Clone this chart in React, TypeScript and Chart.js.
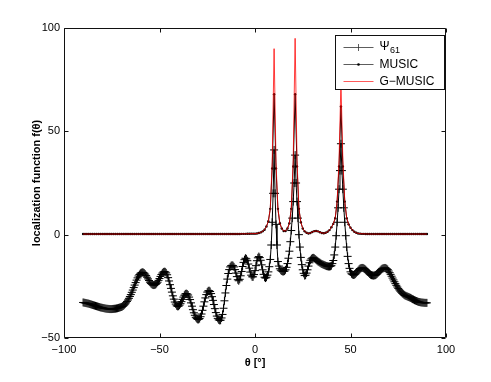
import React, { useEffect, useRef } from "react";
import { Chart, registerables } from "chart.js";

Chart.register(...registerables);

// sampling grids (theta from -90 to 90)
const THETA_START = -90;
const PSI_STEP = 0.5; // Psi_61 sampled every 0.5 degree
const MUSIC_STEP = 1; // MUSIC / G-MUSIC sampled every 1 degree

// Psi_61 (lower curve, "+" markers), pairs per degree: [theta, theta+0.5]
const PSI61 = [
  -32.8, -32.9, -33.0, -33.1, -33.2, -33.3, -33.4, -33.55, -33.7, -33.85, // -90..-86
  -34.0, -34.15, -34.3, -34.45, -34.6, -34.75, -34.9, -35.05, -35.2, -35.3, // -85..-81
  -35.4, -35.5, -35.6, -35.7, -35.8, -35.85, -35.9, -35.95, -36.0, -36.0, // -80..-76
  -36.0, -35.95, -35.9, -35.85, -35.8, -35.7, -35.6, -35.45, -35.3, -35.15, // -75..-71
  -35.0, -34.8, -34.5, -34.1, -33.6, -33.0, -32.3, -31.6, -30.8, -29.9, // -70..-66
  -29.0, -27.9, -26.8, -25.6, -24.4, -23.2, -22.0, -20.9, -20.0, -19.3, // -65..-61
  -18.7, -18.4, -18.2, -18.3, -18.6, -19.1, -19.8, -20.6, -21.4, -22.2, // -60..-56
  -23.0, -23.6, -24.0, -24.3, -24.4, -24.3, -24.1, -23.6, -23.0, -22.1, // -55..-51
  -21.2, -20.2, -19.3, -18.6, -18.1, -17.9, -18.0, -18.5, -19.4, -20.8, // -50..-46
  -22.4, -24.2, -26.0, -27.8, -29.6, -31.2, -32.6, -33.6, -34.4, -34.7, // -45..-41
  -34.6, -34.1, -33.4, -32.4, -31.3, -30.2, -29.3, -28.7, -28.5, -28.7, // -40..-36
  -29.2, -30.2, -31.4, -33.0, -34.6, -36.3, -37.8, -39.0, -40.0, -40.6, // -35..-31
  -41.0, -41.0, -40.6, -39.7, -38.4, -36.6, -34.6, -32.5, -30.6, -29.0, // -30..-26
  -27.8, -27.2, -27.1, -27.5, -28.5, -30.0, -31.8, -33.8, -35.8, -37.7, // -25..-21
  -39.4, -40.5, -41.2, -41.5, -41.4, -40.3, -38.6, -35.6, -32.0, -28.2, // -20..-16
  -24.6, -21.5, -18.8, -16.9, -15.6, -15.0, -14.8, -15.0, -15.6, -16.9, // -15..-11
  -18.6, -20.3, -21.8, -22.3, -21.6, -19.9, -17.8, -15.4, -13.4, -12.1, // -10..-6
  -11.4, -11.7, -12.6, -14.2, -16.2, -18.1, -19.6, -20.4, -20.4, -19.3, // -5..-1
  -17.4, -15.0, -12.6, -11.2, -10.6, -11.1, -12.4, -14.6, -17.0, -19.2, // 0..4
  -20.6, -21.0, -20.6, -19.6, -18.0, -15.5, -12.0, -5.0, 6.0, 20.0,     // 5..9
  41.0, 20.0, 5.0, -5.0, -13.0, -15.2, -16.5, -17.2, -17.6, -17.8,      // 10..14
  -17.8, -17.6, -17.0, -15.8, -14.0, -11.4, -8.0, -3.4, 2.0, 8.0,       // 15..19
  16.0, 25.0, 38.5, 25.0, 16.0, 8.0, 0.0, -6.0, -11.0, -14.5,           // 20..24
  -17.0, -18.7, -19.8, -19.6, -18.6, -17.0, -15.2, -13.6, -12.4, -11.7, // 25..29
  -11.3, -11.2, -11.4, -11.8, -12.2, -12.6, -13.0, -13.3, -13.6, -13.9, // 30..34
  -14.2, -14.4, -14.6, -14.8, -15.0, -15.2, -15.3, -15.4, -15.4, -15.3, // 35..39
  -15.0, -14.0, -12.5, -9.8, -6.0, -0.5, 6.0, 13.0, 22.0, 31.0,         // 40..44
  44.0, 31.0, 22.0, 13.0, 6.0, -0.5, -6.0, -10.5, -14.0, -16.3,         // 45..49
  -18.0, -18.9, -19.3, -19.5, -19.4, -19.1, -18.6, -18.0, -17.4, -16.8, // 50..54
  -16.4, -16.2, -16.1, -16.1, -16.3, -16.6, -17.0, -17.5, -18.0, -18.5, // 55..59
  -19.0, -19.4, -19.6, -19.7, -19.8, -19.7, -19.6, -19.3, -18.9, -18.4, // 60..64
  -17.9, -17.4, -16.9, -16.5, -16.3, -16.2, -16.1, -16.2, -16.5, -16.9, // 65..69
  -17.6, -18.4, -19.2, -20.1, -21.0, -21.9, -22.8, -23.7, -24.5, -25.3, // 70..74
  -26.0, -26.7, -27.3, -27.8, -28.3, -28.7, -29.1, -29.4, -29.6, -29.8, // 75..79
  -30.0, -30.2, -30.4, -30.6, -30.9, -31.2, -31.4, -31.7, -31.9, -32.1, // 80..84
  -32.3, -32.5, -32.6, -32.7, -32.8, -32.85, -32.9, -32.95, -33.0, -33.0, // 85..89
  -33.0,                                                                  // 90
];

// MUSIC (black line, dot markers), one value per degree
const MUSIC = [
  0.3, 0.3, 0.3, 0.3, 0.3, 0.3, 0.3, 0.3, 0.3, 0.3, // -90..-81
  0.3, 0.3, 0.3, 0.3, 0.3, 0.3, 0.3, 0.3, 0.3, 0.3, // -80..-71
  0.3, 0.3, 0.3, 0.3, 0.3, 0.3, 0.3, 0.3, 0.3, 0.3, // -70..-61
  0.3, 0.3, 0.3, 0.3, 0.3, 0.3, 0.3, 0.3, 0.3, 0.3, // -60..-51
  0.3, 0.3, 0.3, 0.3, 0.3, 0.3, 0.3, 0.3, 0.3, 0.3, // -50..-41
  0.3, 0.3, 0.3, 0.3, 0.3, 0.3, 0.3, 0.3, 0.3, 0.3, // -40..-31
  0.3, 0.3, 0.3, 0.3, 0.3, 0.3, 0.3, 0.3, 0.3, 0.3, // -30..-21
  0.3, 0.3, 0.3, 0.3, 0.3, 0.3, 0.3, 0.3, 0.3, 0.3, // -20..-11
  0.35, 0.35, 0.35, 0.4, 0.4, 0.4, 0.45, 0.45, 0.5, 0.5, // -10..-1
  0.5, 0.6, 0.8, 1.1, 1.6, 2.4, 4.0, 6.5, 12.5, 32,  // 0..9
  68, 32, 12.5, 5.5, 3.0, 1.8, 1.8, 3.0, 5.5, 12.5,  // 10..19
  33, 68, 33, 12.5, 6.0, 3.0, 1.6, 0.9, 0.6, 0.8,    // 20..29
  1.3, 1.7, 1.8, 1.6, 1.2, 0.8, 0.7, 0.9, 1.4, 2.2,  // 30..39
  3.6, 5.2, 8.0, 16, 33, 62, 33, 16, 8.0, 5.0,       // 40..49
  3.4, 2.2, 1.4, 0.9, 0.6, 0.5, 0.4, 0.4, 0.35, 0.35, // 50..59
  0.3, 0.3, 0.3, 0.3, 0.3, 0.3, 0.3, 0.3, 0.3, 0.3, // 60..69
  0.3, 0.3, 0.3, 0.3, 0.3, 0.3, 0.3, 0.3, 0.3, 0.3, // 70..79
  0.3, 0.3, 0.3, 0.3, 0.3, 0.3, 0.3, 0.3, 0.3, 0.3, // 80..89
  0.3,                                              // 90
];

// G-MUSIC (red line), one value per degree
const GMUSIC = [
  0.3, 0.3, 0.3, 0.3, 0.3, 0.3, 0.3, 0.3, 0.3, 0.3, // -90..-81
  0.3, 0.3, 0.3, 0.3, 0.3, 0.3, 0.3, 0.3, 0.3, 0.3, // -80..-71
  0.3, 0.3, 0.3, 0.3, 0.3, 0.3, 0.3, 0.3, 0.3, 0.3, // -70..-61
  0.3, 0.3, 0.3, 0.3, 0.3, 0.3, 0.3, 0.3, 0.3, 0.3, // -60..-51
  0.3, 0.3, 0.3, 0.3, 0.3, 0.3, 0.3, 0.3, 0.3, 0.3, // -50..-41
  0.3, 0.3, 0.3, 0.3, 0.3, 0.3, 0.3, 0.3, 0.3, 0.3, // -40..-31
  0.3, 0.3, 0.3, 0.3, 0.3, 0.3, 0.3, 0.3, 0.3, 0.3, // -30..-21
  0.3, 0.3, 0.3, 0.3, 0.3, 0.3, 0.3, 0.3, 0.3, 0.3, // -20..-11
  0.35, 0.35, 0.35, 0.4, 0.4, 0.4, 0.45, 0.45, 0.5, 0.5, // -10..-1
  0.5, 0.6, 0.8, 1.1, 1.6, 2.4, 4.0, 6.5, 12.5, 35,  // 0..9
  90, 35, 12.5, 5.5, 3.0, 1.8, 1.8, 3.0, 5.5, 12.5,  // 10..19
  36, 95, 36, 12.5, 6.0, 3.0, 1.6, 0.9, 0.6, 0.8,    // 20..29
  1.3, 1.7, 1.8, 1.6, 1.2, 0.8, 0.7, 0.9, 1.4, 2.2,  // 30..39
  3.6, 5.2, 8.0, 16, 36, 74, 36, 16, 8.0, 5.0,       // 40..49
  3.4, 2.2, 1.4, 0.9, 0.6, 0.5, 0.4, 0.4, 0.35, 0.35, // 50..59
  0.3, 0.3, 0.3, 0.3, 0.3, 0.3, 0.3, 0.3, 0.3, 0.3, // 60..69
  0.3, 0.3, 0.3, 0.3, 0.3, 0.3, 0.3, 0.3, 0.3, 0.3, // 70..79
  0.3, 0.3, 0.3, 0.3, 0.3, 0.3, 0.3, 0.3, 0.3, 0.3, // 80..89
  0.3,                                              // 90
];

const X_TICKS = [-100, -50, 0, 50, 100];
const Y_TICKS = [-50, 0, 50, 100];
const X_TITLE = "θ [°]";
const Y_TITLE = "localization function f(θ)";
const LABEL_PSI = "Ψ";
const LABEL_PSI_SUB = "61";
const LABEL_MUSIC = "MUSIC";
const LABEL_GMUSIC = "G−MUSIC";

const FONT = '"Liberation Sans", Arial, Helvetica, sans-serif';

const fmt = (v: number) => (v < 0 ? "\u2212" + Math.abs(v) : String(v));

const toPoints = (vals: number[], step: number) =>
  vals.map((y, i) => ({ x: THETA_START + i * step, y }));

const axesBoxPlugin = {
  id: "axesBox",
  afterDatasetsDraw(chart: any) {
    const { ctx, chartArea, scales } = chart;
    const L = Math.round(chartArea.left) + 0.5;
    const R = Math.round(chartArea.right) - 0.5;
    const T = Math.round(chartArea.top) + 0.5;
    const B = Math.round(chartArea.bottom) - 0.5;
    const tl = 4;
    ctx.save();
    ctx.strokeStyle = "#111";
    ctx.lineWidth = 1;
    ctx.beginPath();
    ctx.rect(L, T, R - L, B - T);
    ctx.stroke();
    ctx.beginPath();
    X_TICKS.forEach((v) => {
      const px = Math.round(scales.x.getPixelForValue(v)) + 0.5;
      ctx.moveTo(px, B);
      ctx.lineTo(px, B - tl);
      ctx.moveTo(px, T);
      ctx.lineTo(px, T + tl);
    });
    Y_TICKS.forEach((v) => {
      const py = Math.round(scales.y.getPixelForValue(v)) + 0.5;
      ctx.moveTo(L, py);
      ctx.lineTo(L + tl, py);
      ctx.moveTo(R, py);
      ctx.lineTo(R - tl, py);
    });
    ctx.stroke();
    ctx.restore();
  },
};

const legendPlugin = {
  id: "matlabLegend",
  afterDraw(chart: any) {
    const { ctx, chartArea } = chart;
    const bx = Math.round(chartArea.right) - 110.5;
    const by = Math.round(chartArea.top) + 7.5;
    const bw = 109;
    const bh = 54;
    ctx.save();
    ctx.fillStyle = "#fff";
    ctx.fillRect(bx, by, bw, bh);
    ctx.strokeStyle = "#111";
    ctx.lineWidth = 1;
    ctx.strokeRect(bx, by, bw, bh);

    const rows = [by + 12, by + 29, by + 46];
    const x1 = bx + 8;
    const x2 = bx + 38;
    const xm = (x1 + x2) / 2;
    const xt = bx + 44;

    // row 1: Psi_61
    ctx.strokeStyle = "#333";
    ctx.lineWidth = 0.8;
    ctx.beginPath();
    ctx.moveTo(x1, rows[0]);
    ctx.lineTo(x2, rows[0]);
    ctx.moveTo(xm, rows[0] - 3.5);
    ctx.lineTo(xm, rows[0] + 3.5);
    ctx.stroke();

    // row 2: MUSIC
    ctx.beginPath();
    ctx.moveTo(x1, rows[1]);
    ctx.lineTo(x2, rows[1]);
    ctx.stroke();
    ctx.fillStyle = "#000";
    ctx.beginPath();
    ctx.arc(xm, rows[1], 1.3, 0, Math.PI * 2);
    ctx.fill();

    // row 3: G-MUSIC
    ctx.strokeStyle = "#ff3030";
    ctx.beginPath();
    ctx.moveTo(x1, rows[2]);
    ctx.lineTo(x2, rows[2]);
    ctx.stroke();

    ctx.fillStyle = "#000";
    ctx.textBaseline = "middle";
    ctx.textAlign = "left";
    ctx.font = `12px ${FONT}`;
    ctx.fillText(LABEL_PSI, xt, rows[0] - 1);
    const w = ctx.measureText(LABEL_PSI).width;
    ctx.font = `9px ${FONT}`;
    ctx.fillText(LABEL_PSI_SUB, xt + w + 0.5, rows[0] + 3.5);
    ctx.font = `12px ${FONT}`;
    ctx.fillText(LABEL_MUSIC, xt, rows[1]);
    ctx.fillText(LABEL_GMUSIC, xt, rows[2]);
    ctx.restore();
  },
};

export default function App() {
  const ref = useRef<HTMLCanvasElement | null>(null);

  useEffect(() => {
    if (!ref.current) return;
    Chart.defaults.font.family = FONT;
    const chart = new Chart(ref.current, {
      type: "line",
      data: {
        datasets: [
          {
            label: LABEL_PSI + LABEL_PSI_SUB,
            data: toPoints(PSI61, PSI_STEP),
            borderColor: "#000",
            borderWidth: 1,
            pointStyle: "cross",
            pointRadius: 4,
            pointBorderColor: "#000",
            pointBorderWidth: 1,
            pointBackgroundColor: "#000",
            tension: 0,
            order: 2,
          },
          {
            label: LABEL_MUSIC,
            data: toPoints(MUSIC, MUSIC_STEP),
            borderColor: "#000",
            borderWidth: 1,
            pointStyle: "circle",
            pointRadius: 1.2,
            pointBorderWidth: 0,
            pointBackgroundColor: "#000",
            tension: 0,
            order: 1,
          },
          {
            label: LABEL_GMUSIC,
            data: toPoints(GMUSIC, MUSIC_STEP),
            borderColor: "rgba(255,0,0,0.85)",
            borderWidth: 0.9,
            pointRadius: 0,
            tension: 0,
            order: 0,
          },
        ],
      },
      options: {
        responsive: false,
        animation: false,
        devicePixelRatio: 1,
        layout: { padding: { top: 28, right: 45, left: 0, bottom: 0 } },
        plugins: {
          legend: { display: false },
          tooltip: { enabled: false },
        },
        scales: {
          x: {
            type: "linear",
            min: -100,
            max: 100,
            afterBuildTicks: (s: any) => {
              s.ticks = X_TICKS.map((v) => ({ value: v }));
            },
            afterFit: (s: any) => {
              s.height = 44;
            },
            grid: { display: false, drawTicks: false },
            border: { display: false },
            ticks: {
              padding: 5,
              color: "#000",
              font: { size: 11, family: FONT },
              maxRotation: 0,
              autoSkip: false,
              callback: (v: any) => fmt(Number(v)),
            },
            title: {
              display: true,
              text: X_TITLE,
              color: "#000",
              font: { size: 11, weight: "bold", family: FONT },
              padding: { top: 0, bottom: 12.4 },
            },
          },
          y: {
            type: "linear",
            min: -50,
            max: 100,
            afterBuildTicks: (s: any) => {
              s.ticks = Y_TICKS.map((v) => ({ value: v }));
            },
            afterFit: (s: any) => {
              s.width = 64;
            },
            grid: { display: false, drawTicks: false },
            border: { display: false },
            ticks: {
              padding: 4,
              color: "#000",
              font: { size: 11, family: FONT },
              autoSkip: false,
              callback: (v: any) => fmt(Number(v)),
            },
            title: {
              display: true,
              text: Y_TITLE,
              color: "#000",
              font: { size: 11, weight: "bold", family: FONT },
              padding: { top: 30.4, bottom: 0 },
            },
          },
        },
      },
      plugins: [axesBoxPlugin, legendPlugin],
    } as any);
    return () => chart.destroy();
  }, []);

  return (
    <div style={{ position: "fixed", left: 0, top: 0, width: 491, height: 382, background: "#fff" }}>
      <canvas ref={ref} width={491} height={382} style={{ width: 491, height: 382, display: "block" }} />
    </div>
  );
}
